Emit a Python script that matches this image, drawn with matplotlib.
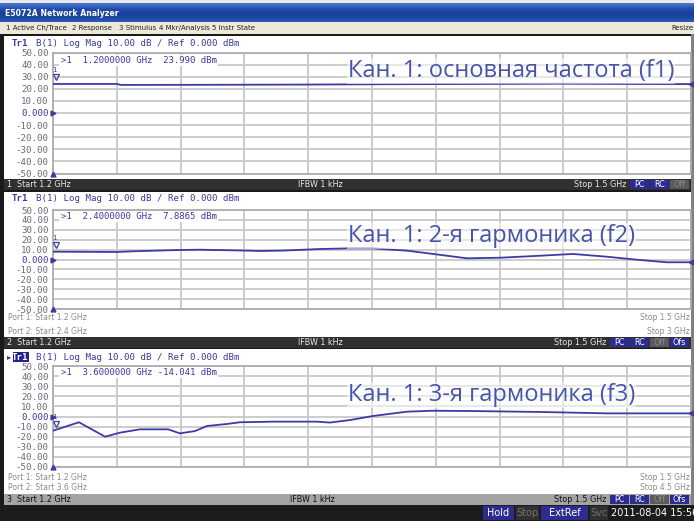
import numpy as np
import matplotlib.pyplot as plt
from matplotlib.patches import Rectangle
from matplotlib.colors import LinearSegmentedColormap
from matplotlib import transforms

# trace data (GHz, dBm)
f_start, f_stop = 1.2, 1.5
y_ticks = [50, 40, 30, 20, 10, 0, -10, -20, -30, -40, -50]
y_labels = ['50.00', '40.00', '30.00', '20.00', '10.00', '0.000',
            '-10.00', '-20.00', '-30.00', '-40.00', '-50.00']
ref_level = 0

f1 = [1.200, 1.230, 1.232, 1.270, 1.320, 1.360, 1.400, 1.440, 1.470, 1.500]
v1 = [23.99, 24.0, 23.2, 23.3, 23.5, 23.8, 24.0, 24.2, 24.0, 23.9]

f2 = [1.2000, 1.2301, 1.2376, 1.2597, 1.2691, 1.2903, 1.2973, 1.3082, 1.3256,
      1.3397, 1.3500, 1.3665, 1.3787, 1.3947, 1.4102, 1.4290, 1.4445, 1.4605,
      1.4760, 1.4887, 1.5000]
v2 = [7.89, 7.6, 8.3, 9.6, 9.9, 9.0, 8.6, 9.0, 10.6,
      11.3, 11.3, 8.9, 5.6, 1.2, 1.8, 3.8, 5.6, 2.8,
      -0.5, -2.8, -2.8]

f3 = [1.2000, 1.2122, 1.2245, 1.2315, 1.2409, 1.2541, 1.2597, 1.2668, 1.2724,
      1.2818, 1.2879, 1.3034, 1.3241, 1.3302, 1.3397, 1.3505, 1.3665, 1.3787,
      1.3975, 1.4290, 1.4605, 1.4915, 1.5000]
v3 = [-14.04, -5.7, -20.0, -16.0, -12.7, -12.7, -16.7, -14.4, -9.4,
      -7.4, -5.7, -5.1, -5.1, -6.0, -3.5, 0.5, 4.8, 5.7,
      5.4, 4.5, 3.1, 3.1, 3.1]

labels = ['Кан. 1: основная частота (f1)',
          'Кан. 1: 2-я гармоника (f2)',
          'Кан. 1: 3-я гармоника (f3)']
marker_txt = ['>1  1.2000000 GHz  23.990 dBm',
              '>1  2.4000000 GHz  7.8865 dBm',
              '>1  3.6000000 GHz -14.041 dBm']
port_stop = ['Stop 3 GHz', 'Stop 4.5 GHz']
port_start = ['Start 2.4 GHz', 'Start 3.6 GHz']

W, H = 694, 521
fig = plt.figure(figsize=(W / 100, H / 100), dpi=100)
fig.patch.set_facecolor('#d4d0c8')

TRACE = '#3c3ca4'
BLUE = '#3a3a9c'
MONO = 'DejaVu Sans Mono'


def rect(x0, y0, x1, y1, color, z=-1):
    fig.patches.append(Rectangle((x0 / W, 1 - y1 / H), (x1 - x0) / W, (y1 - y0) / H,
                                 transform=fig.transFigure, facecolor=color,
                                 edgecolor='none', zorder=z))


def txt(x, y, s, **kw):
    kw.setdefault('va', 'center')
    kw.setdefault('fontsize', 6)
    kw.setdefault('zorder', 5)
    fig.text(x / W, 1 - y / H, s, **kw)


def axes_px(x0, y0, x1, y1):
    return fig.add_axes([x0 / W, 1 - y1 / H, (x1 - x0) / W, (y1 - y0) / H])


# title bar + menu bar
rect(0, 0, W, 3, '#e8e8e8')
tb = axes_px(0, 3, W, 22)
grad = np.linspace(0, 1, 20)[:, None] * np.ones((1, 10))
tb.imshow(grad, aspect='auto', cmap=LinearSegmentedColormap.from_list(
    'tb', ['#4a78d0', '#1b4aa6', '#17409a', '#2a58b4']), extent=[0, 1, 0, 1])
tb.axis('off')
txt(5, 13, 'E5072A Network Analyzer', color='white', fontsize=5.6, fontweight='bold')
rect(0, 22, W, 34, '#ece9d8')
for x, s in [(6, '1 Active Ch/Trace'), (72, '2 Response'), (119, '3 Stimulus'),
             (159, '4 Mkr/Analysis'), (212, '5 Instr State'), (671, 'Resize')]:
    txt(x, 28, s, fontsize=5, color='#202020')

# panels: white area, plot box, status bar
panels = [
    dict(top=36, bot=179, ax=(52.5, 173.5), head=44, status=(179, 190)),
    dict(top=192, bot=337, ax=(210, 309), head=199, status=(337, 348)),
    dict(top=349, bot=494, ax=(366, 467), head=357, status=(494, 505)),
]
traces = [(f1, v1), (f2, v2), (f3, v3)]
label_y = [71, 236, 395]

rect(0, 34, W, 505, '#1a1a1a', z=-3)
for i, p in enumerate(panels):
    rect(4, p['top'], 691, p['bot'], 'white', z=-2)
    ax = axes_px(53, p['ax'][0], 691, p['ax'][1])
    ax.set_zorder(2)
    ax.set_xlim(f_start, f_stop)
    ax.set_ylim(-50, 50)
    ax.set_xticks(np.linspace(f_start, f_stop, 11))
    ax.set_xticklabels([])
    ax.set_yticks(y_ticks)
    ax.set_yticklabels(y_labels, family=MONO, fontsize=6.6, color='#6a6a78')
    ax.get_yticklabels()[5].set_color(BLUE)
    ax.tick_params(length=0, pad=3)
    ax.grid(color='#c8c8c8', lw=1.3)
    ax.set_axisbelow(True)
    for s in ax.spines.values():
        s.set_color('#a8a8a8')
        s.set_linewidth(1.2)
    ax.set_facecolor('white')

    f, v = traces[i]
    ax.plot(f, v, color=TRACE, lw=1.3, zorder=3)
    # marker 1 at start
    up = transforms.offset_copy(ax.transData, fig=fig, x=2, y=5, units='points')
    ax.plot([f[0]], [v[0]], marker='v', ms=5, mfc='none', mec=TRACE, mew=0.9,
            transform=up, clip_on=False, zorder=4)
    ax.text(f[0], v[0], '1', transform=transforms.offset_copy(ax.transData, fig=fig, x=1, y=10, units='points'),
            fontsize=5, color=TRACE, ha='center', va='center')
    ax.plot([f_start], [ref_level], marker='>', ms=3.5, color=TRACE, clip_on=False, zorder=4)
    ax.plot([f_start], [-50], marker='^', ms=3.5, color=TRACE, clip_on=False, zorder=4)
    ax.plot([f_stop], [v[-1]], marker='<', ms=3.5, color=TRACE, clip_on=False, zorder=4)

    ax.text(0.012, 0.935, marker_txt[i], transform=ax.transAxes, family=MONO,
            fontsize=6.5, color=BLUE, va='center',
            bbox=dict(facecolor='white', edgecolor='none', pad=1))
    ax.text(1.2 + (348 - 53) / 638 * 0.3, 50 - (label_y[i] - p['ax'][0]) / (p['ax'][1] - p['ax'][0]) * 100,
            labels[i], fontsize=17, family='Open Sans', color='#4654ac', va='center', zorder=5,
            bbox=dict(facecolor='white', edgecolor='none', alpha=0.55, pad=0.5))

    # trace header
    hx = 12
    if i == 2:
        txt(7, p['head'], '\u25b8', color=BLUE, fontsize=6)
        rect(13, p['head'] - 5, 29, p['head'] + 5, '#24248c', z=1)
        txt(hx, p['head'], 'Tr1', family=MONO, fontsize=6.6, color='white', fontweight='bold')
    else:
        txt(hx, p['head'], 'Tr1', family=MONO, fontsize=6.6, color=BLUE, fontweight='bold')
    txt(hx + 24, p['head'], 'B(1) Log Mag 10.00 dB / Ref 0.000 dBm', family=MONO,
        fontsize=6.6, color=BLUE)

    if i > 0:
        txt(8, 318 if i == 1 else 477, 'Port 1: Start 1.2 GHz', color='#8a8a8a', fontsize=5.5)
        txt(8, 331 if i == 1 else 488, 'Port 2: ' + port_start[i - 1], color='#8a8a8a', fontsize=5.5)
        txt(690, 318 if i == 1 else 477, 'Stop 1.5 GHz', color='#8a8a8a', fontsize=5.5, ha='right')
        txt(690, 331 if i == 1 else 488, port_stop[i - 1], color='#8a8a8a', fontsize=5.5, ha='right')

    # status bar
    s0, s1 = p['status']
    active = i == 2
    rect(4, s0, 691, s1, '#a4a4a4' if active else '#303030', z=0)
    fg = '#101010' if active else '#e8e8e8'
    yc = (s0 + s1) / 2
    txt(7, yc, f'{i + 1}  Start 1.2 GHz', color=fg, fontsize=5.8)
    txt(290 if active else 298, yc, 'IFBW 1 kHz', color=fg, fontsize=5.8)
    boxes = [('PC', '#2c2c90', 'white'), ('RC', '#2c2c90', 'white'), ('Off', '#5a5a5a', '#8a8a8a')]
    if i > 0:
        boxes.append(('Ofs', '#2c2c90', 'white'))
    bx = 690 - 20 * len(boxes)
    txt(bx - 4, yc, 'Stop 1.5 GHz', color=fg, fontsize=5.8, ha='right')
    for name, bc, tc in boxes:
        rect(bx, s0 + 1, bx + 19, s1 - 1, bc, z=1)
        txt(bx + 9.5, yc, name, color=tc, fontsize=5.8, ha='center')
        bx += 20

# bottom bar
rect(0, 505, W, H, '#1c1c1c', z=0)
for x0, x1, s, bc, tc in [(483, 514, 'Hold', '#2c2c90', 'white'),
                          (516, 539, 'Stop', '#303030', '#707070'),
                          (541, 588, 'ExtRef', '#2c2c90', 'white'),
                          (590, 608, 'Svc', '#303030', '#707070')]:
    rect(x0, 506, x1, 520, bc, z=1)
    txt((x0 + x1) / 2, 513, s, color=tc, fontsize=7, ha='center')
txt(611, 513, '2011-08-04 15:56', color='white', fontsize=7)
rect(691, 34, W, 505, '#808080', z=1)

fig.savefig('out.png', dpi=100, facecolor=fig.get_facecolor())
